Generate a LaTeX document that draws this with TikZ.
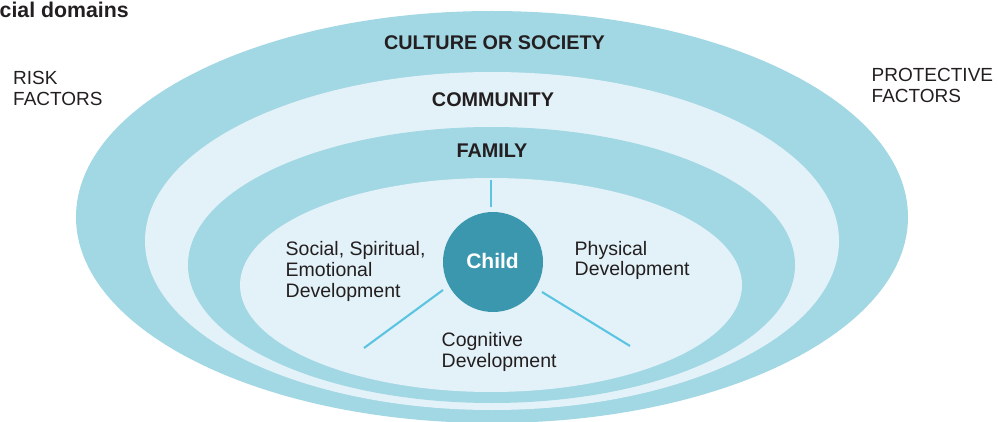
\documentclass[tikz,border=0pt]{standalone}
\usepackage{fontspec}
\setmainfont{Liberation Sans}
\usetikzlibrary{shapes.geometric}
\definecolor{banddark}{RGB}{162,215,228}
\definecolor{bandlight}{RGB}{227,242,248}
\definecolor{childblue}{RGB}{58,151,174}
\definecolor{spoke}{RGB}{90,196,226}
\definecolor{ink}{RGB}{35,31,32}
\tikzset{
  ring/.style={ellipse, inner sep=0pt, outer sep=0pt, draw=none},
  head/.style={font=\fontsize{19.8}{22}\selectfont\bfseries, text=ink, inner sep=0pt, anchor=base},
  body/.style={font=\fontsize{19.5}{21}\selectfont, text=ink, inner sep=0pt, anchor=base west},
  side/.style={font=\fontsize{19}{20}\selectfont, text=ink, inner sep=0pt, anchor=base west},
  spokeline/.style={draw=spoke, line width=2.1pt}
}
\begin{document}
\begin{tikzpicture}[x=1pt,y=-1pt]
\useasboundingbox (0,0) rectangle (998,422);
\clip (0,0) rectangle (998,422);
% rings
\node[ring, fill=banddark, minimum width=832pt, minimum height=412pt] (culture) at (492,217) {};
\node[ring, fill=bandlight, minimum width=694pt, minimum height=338pt] (community) at (492,241) {};
\node[ring, fill=banddark, minimum width=607pt, minimum height=276pt] (family) at (491.5,265) {};
\node[ring, fill=bandlight, minimum width=502pt, minimum height=214pt] (inner) at (491,285) {};
% child
\node[circle, fill=childblue, minimum size=100pt, inner sep=0pt] (child) at (493,262) {};
\node[font=\fontsize{21}{24}\selectfont\bfseries, text=white, inner sep=0pt, anchor=base] (childtxt) at (492.5,268.5) {Child};
% spokes
\coordinate (t1) at (491,180);
\coordinate (t2) at (491,207);
\coordinate (l1) at (443,290);
\coordinate (l2) at (364,348);
\coordinate (r1) at (542,292);
\coordinate (r2) at (630,346);
\draw[spokeline] (t1) -- (t2);
\draw[spokeline] (l1) -- (l2);
\draw[spokeline] (r1) -- (r2);
% headings
\node[head] (hculture) at (494.5,50) {CULTURE OR SOCIETY};
\node[head] (hcommunity) at (493,107) {COMMUNITY};
\node[head] (hfamily) at (492,158) {FAMILY};
% domain texts
\node[body] (social) at (285.5,255) {\vtop{\baselineskip=21pt\hbox{Social, Spiritual,}\hbox{Emotional}\hbox{Development}}};
\node[body] (physical) at (574.5,255) {\vtop{\baselineskip=20.5pt\hbox{Physical}\hbox{Development}}};
\node[body] (cognitive) at (441.5,346) {\vtop{\baselineskip=21pt\hbox{Cognitive}\hbox{Development}}};
% side labels
\node[side] (risk) at (13,85) {\vtop{\baselineskip=20.5pt\hbox{RISK}\hbox{FACTORS}}};
\node[side] (protective) at (871.5,82) {\vtop{\baselineskip=20.5pt\hbox{PROTECTIVE}\hbox{FACTORS}}};
% title fragment
\node[font=\fontsize{21.3}{24}\selectfont\bfseries, text=ink, inner sep=0pt, anchor=base west] (title) at (-0.5,17.5) {cial domains};
\end{tikzpicture}
\end{document}
